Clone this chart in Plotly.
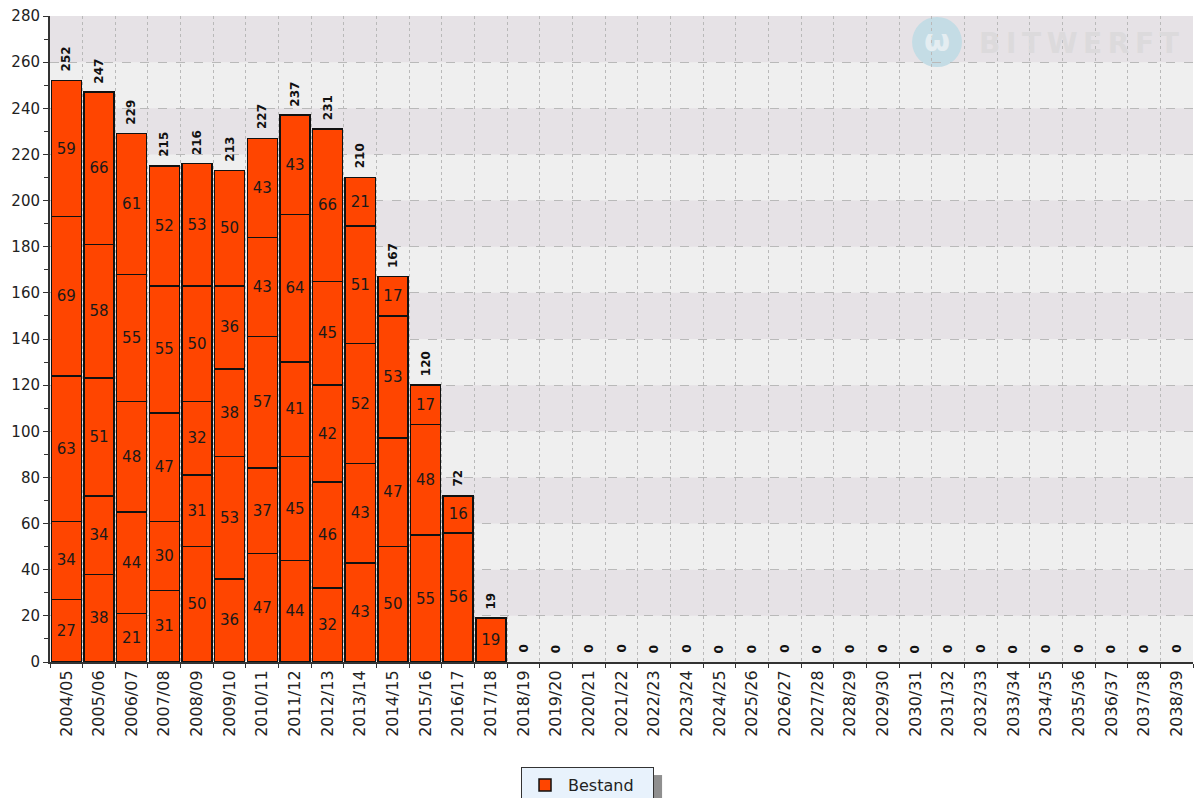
import plotly.graph_objects as go

# school years (categories)
years = [f"{y}/{str(y + 1)[-2:]}" for y in range(2004, 2039)]

# stacked segments, bottom to top (0 = no segment)
level_1 = [27, 38, 21, 31, 50, 36, 47, 44, 32, 43, 50, 55, 56, 19] + [0] * 21
level_2 = [34, 34, 44, 30, 31, 53, 37, 45, 46, 43, 47, 48, 16, 0] + [0] * 21
level_3 = [63, 51, 48, 47, 32, 38, 57, 41, 42, 52, 53, 17, 0, 0] + [0] * 21
level_4 = [69, 58, 55, 55, 50, 36, 43, 64, 45, 51, 17, 0, 0, 0] + [0] * 21
level_5 = [59, 66, 61, 52, 53, 50, 43, 43, 66, 21, 0, 0, 0, 0] + [0] * 21
levels = [level_1, level_2, level_3, level_4, level_5]

totals = [sum(v) for v in zip(*levels)]

BAR = "#ff4500"
FONT = "DejaVu Sans"

fig = go.Figure()

for i, vals in enumerate(levels):
    fig.add_trace(go.Bar(
        x=years,
        y=[v if v else None for v in vals],
        text=[str(v) if v else "" for v in vals],
        textposition="inside",
        insidetextanchor="middle",
        textangle=0,
        textfont=dict(family=FONT, size=15, color="#1a1a1a"),
        marker=dict(color=BAR, line=dict(color="#111111", width=1.5)),
        name="Bestand",
        showlegend=(i == 0),
        hoverinfo="x+y",
    ))

# totals above the bars, rotated
for yr, tot in zip(years, totals):
    fig.add_annotation(
        x=yr, y=tot, text=f"<b>{tot}</b>", textangle=-90,
        showarrow=False, yanchor="bottom", yshift=7,
        font=dict(family=FONT, size=12, color="#111111"),
    )

# alternating background bands
shapes = []
for y0 in range(20, 280, 40):
    shapes.append(dict(type="rect", xref="paper", yref="y", x0=0, x1=1, y0=y0, y1=y0 + 20,
                       fillcolor="#e6e2e6", line=dict(width=0), layer="below"))

# watermark logo
shapes.append(dict(type="circle", xref="paper", yref="paper",
                   x0=0.7542, x1=0.7979, y0=0.921, y1=0.9985,
                   fillcolor="#c4dce5", line=dict(width=0), layer="below"))
fig.add_annotation(xref="paper", yref="paper", x=0.776, y=0.962, text="<b>ω</b>",
                   xanchor="center", yanchor="middle",
                   showarrow=False, font=dict(family=FONT, size=30, color="#e4edf1"))
fig.add_annotation(xref="paper", yref="paper", x=0.9003, y=0.958,
                   text="<b>B\u2009I\u2009T\u2009W\u2009E\u2009R\u2009F\u2009T</b>",
                   xanchor="center", yanchor="middle",
                   showarrow=False, font=dict(family=FONT, size=28, color="#dcdadc"))

# legend shadow
shapes.append(dict(type="rect", xref="paper", yref="paper",
                   x0=0.5267, x1=0.5355, y0=-0.215, y1=-0.175,
                   fillcolor="#8f8f8f", line=dict(width=0), layer="above"))

# the page adds an 8px body margin, so the figure is 8px smaller on each side
fig.update_layout(
    width=1195,
    height=790,
    barmode="stack",
    bargap=0.08,
    plot_bgcolor="#efefef",
    paper_bgcolor="white",
    margin=dict(l=42, r=10, t=8, b=136, autoexpand=False),
    font=dict(family=FONT, size=14, color="#333333"),
    shapes=shapes,
    showlegend=True,
    legend=dict(
        orientation="h",
        xref="container", yref="container",
        x=0.4293, xanchor="left",
        y=0.039, yanchor="top",
        bgcolor="#e8f2fc",
        bordercolor="#333333",
        borderwidth=1,
        itemwidth=36,
        entrywidth=80,
        font=dict(family=FONT, size=16, color="#222222"),
    ),
)

fig.update_xaxes(
    type="category",
    categoryorder="array",
    categoryarray=years,
    automargin=False,
    tickson="boundaries",
    ticks="outside",
    ticklen=4,
    tickcolor="#333333",
    tickangle=-90,
    tickfont=dict(family=FONT, size=16, color="#222222"),
    ticklabeloverflow="allow",
    showgrid=True,
    gridcolor="#b9b9b9",
    griddash="dot",
    gridwidth=1,
    showline=True,
    linecolor="#333333",
    linewidth=2,
)

fig.update_yaxes(
    range=[0, 280],
    dtick=20,
    automargin=False,
    ticks="outside",
    ticklen=5,
    tickcolor="#333333",
    tickfont=dict(family=FONT, size=15, color="#222222"),
    ticklabeloverflow="allow",
    minor=dict(dtick=10, ticks="outside", ticklen=4, tickcolor="#333333", showgrid=False),
    showgrid=True,
    gridcolor="#b9b9b9",
    griddash="dash",
    gridwidth=1,
    zeroline=False,
    showline=True,
    linecolor="#333333",
    linewidth=2,
)

fig.write_html("out.html")
